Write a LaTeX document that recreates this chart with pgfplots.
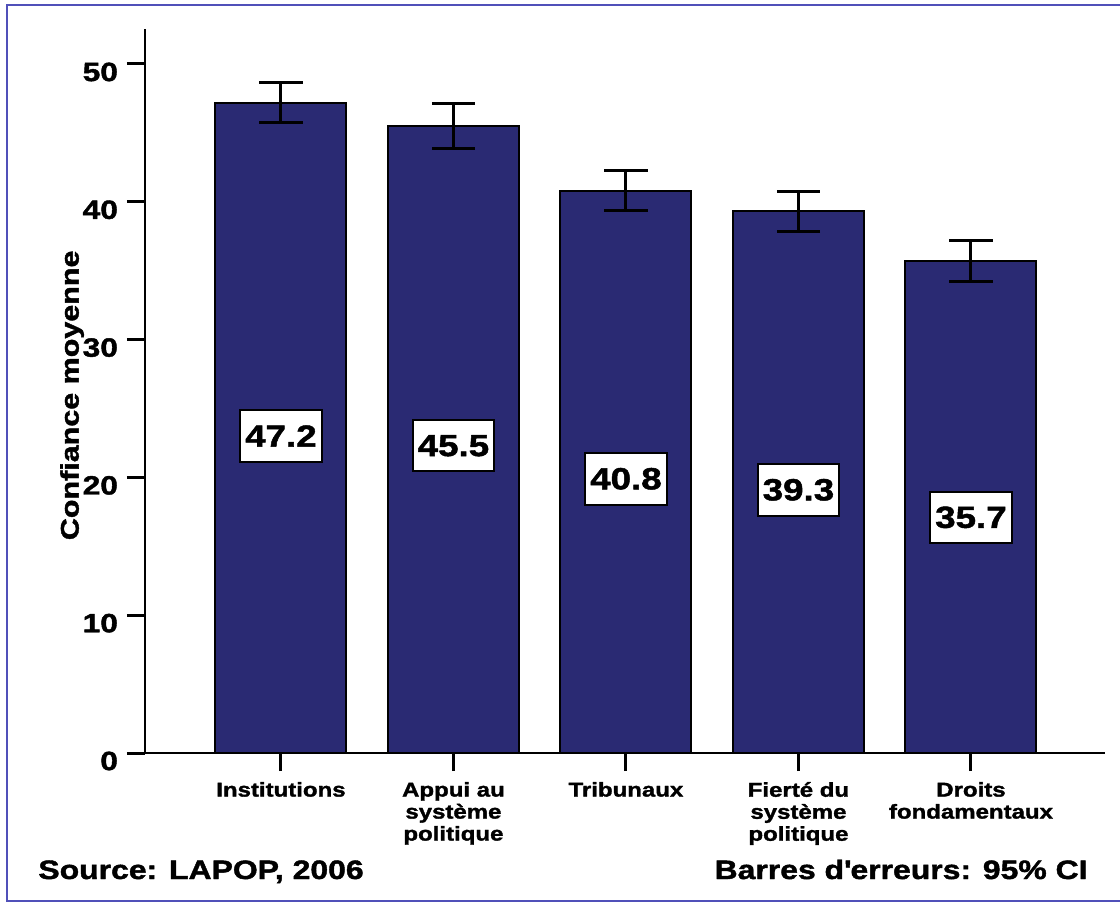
\documentclass[border=0pt]{standalone}
\usepackage{fontspec}
\setmainfont{Liberation Sans}[FakeStretch=1.2, BoldFeatures={FakeBold=1.6}]
\usepackage{pgfplots}
\pgfplotsset{compat=1.18}
\definecolor{barblue}{RGB}{42,42,115}
\definecolor{framecol}{RGB}{80,80,185}
\pgfplotstableread{
x y e
0 47.2 1.47
1 45.5 1.63
2 40.8 1.45
3 39.3 1.45
4 35.7 1.47
}\bardata
\pgfplotstableread{
x y lab
0 23.0 47.2
1 22.3 45.5
2 19.9 40.8
3 19.1 39.3
4 17.1 35.7
}\labdata
\begin{document}
\begin{tikzpicture}
\useasboundingbox (0,0) rectangle (560pt,-451.5pt);
\draw[framecol, line width=1.2pt] (3.5pt,-2.5pt) rectangle (566pt,-450.5pt);
\begin{axis}[
  at={(72.5pt,-376.5pt)}, anchor=south west,
  scale only axis, width=480pt, height=362pt,
  xmin=-0.788, xmax=4.777, ymin=0, ymax=52.54,
  axis lines=left, axis line style={-, line width=1.3pt},
  ytick={0,10,20,30,40,50},
  xtick={0,1,2,3,4},
  xticklabels={Institutions, {Appui au\\système\\politique}, Tribunaux, {Fierté du\\système\\politique}, {Droits\\fondamentaux}},
  tick style={line width=1.5pt, black},
  major tick length=9pt,
  tick align=outside,
  /pgf/number format/assume math mode=true,
  yticklabel style={font=\bfseries\fontsize{13.2}{15}\selectfont, yshift=-4pt, xshift=-1pt},
  xticklabel style={align=center, font=\bfseries\fontsize{10}{11}\selectfont, anchor=north, yshift=-2pt},
  ylabel={Confiance moyenne},
  ylabel style={at={(axis description cs:-0.076,0.494)}, anchor=center, font=\bfseries\fontsize{12.7}{15}\selectfont},
  clip=false,
]
\addplot[ybar, bar width=65.5pt, fill=barblue, draw=black, line width=1pt,
  error bars/.cd, y dir=both, y explicit,
  error bar style={line width=1.5pt, black},
  error mark options={rotate=90, mark size=10.8pt, line width=1.5pt, black}]
  table[x=x, y=y, y error=e] {\bardata};
\addplot[draw=none, nodes near coords, point meta=explicit symbolic,
  nodes near coords style={anchor=center, fill=white, draw=black, line width=1pt,
    font=\bfseries\fontsize{15.3}{18}\selectfont, inner xsep=2.5pt, inner ysep=7.5pt, text=black}]
  table[x=x, y=y, meta=lab] {\labdata};
\end{axis}
\node[anchor=base west, inner sep=0pt, font=\bfseries\fontsize{13.3}{16}\selectfont] at (19pt,-439.5pt) {Source: LAPOP, 2006};
\node[anchor=base east, inner sep=0pt, font=\bfseries\fontsize{13.3}{16}\selectfont] at (544pt,-439.5pt) {Barres d\textquotesingle erreurs: 95\% CI};
\end{tikzpicture}
\end{document}
